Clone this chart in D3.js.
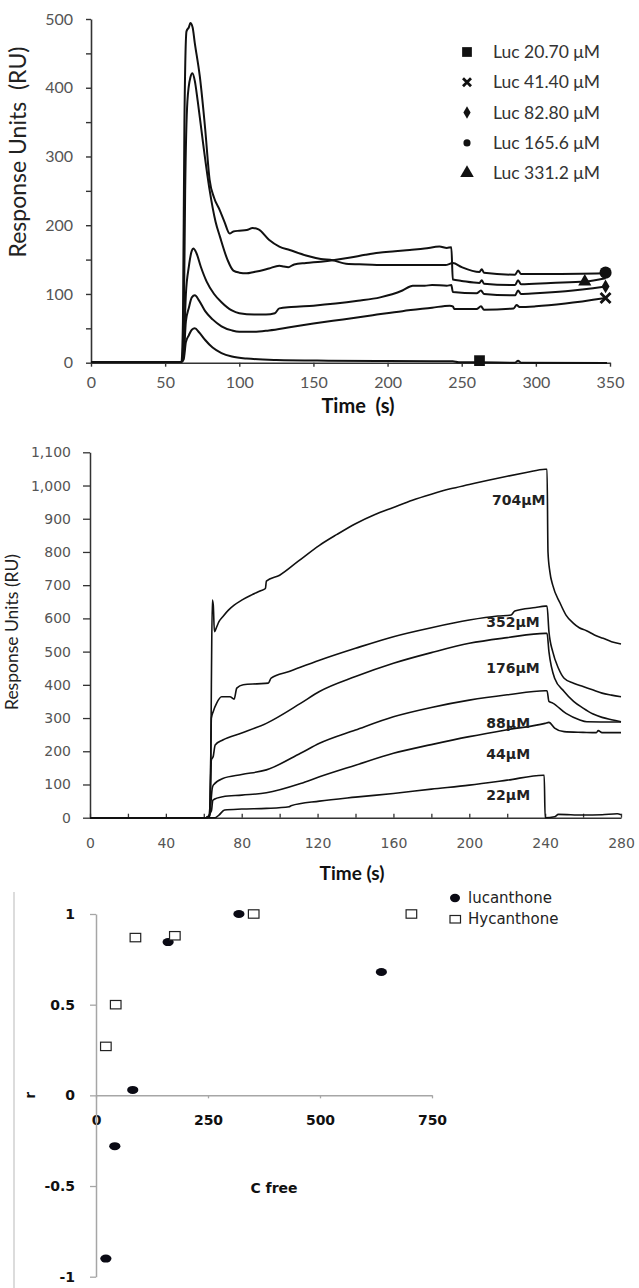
<!DOCTYPE html>
<html>
<head>
<meta charset="utf-8">
<script src="https://cdn.jsdelivr.net/npm/d3@7"></script>
<style>
  body { margin: 0; background: #fff; }
  svg { display: block; }
  .pre { white-space: pre; }
</style>
</head>
<body>
<svg id="chart" width="639" height="1288"></svg>
<script>
// ---------- Panel A: lucanthone sensorgrams (time s, response RU) ----------
const lucLabels = ["Luc 20.70 μM", "Luc 41.40 μM", "Luc 82.80 μM", "Luc 165.6 μM", "Luc 331.2 μM"];
const timeTicksA = [0, 50, 100, 150, 200, 250, 300, 350];
const ruTicksA = [0, 50, 100, 150, 200, 250, 300, 350, 400, 450, 500];

const luc20 = [[0,1],[61,1],[62.5,5],[64,30],[66,40],[68,48],[70,50],[73,44],[77,33],[82,22],[88,14],[95,9],[105,6],[125,4],[160,3],[200,2.5],[244,2],[248,0.5],[262,0.5],[286,0],[288,3],[290,0],[348,-0.5]];
const luc41 = [[0,1],[61,1],[62.5,10],[64,60],[66,80],[68,95],[70,98],[73,90],[77,75],[82,63],[88,53],[95,47],[100,45],[110,45],[120,47],[135,52],[150,57],[170,63],[190,69],[210,75],[230,80],[242,83],[244,82],[245,78],[260,78],[263,82],[265,77],[285,79],[287,84],[289,81],[300,82],[320,86],[347,94]];
const luc83 = [[0,1],[61,1],[62.5,20],[64,100],[66,140],[68,163],[69,166],[71,160],[74,140],[78,118],[83,100],[88,88],[95,76],[100,72],[110,70],[118,70],[124,72],[127,79],[135,81],[150,83],[165,86],[180,90],[195,95],[210,105],[217,112],[225,112],[230,113],[240,112],[243,113],[244,103],[260,101],[263,105],[265,100],[286,98],[288,105],[290,100],[300,101],[320,104],[347,111]];
const luc166 = [[0,1],[61,1],[62,60],[63,350],[64.4,482],[66,488],[67,494],[68.5,488],[70,465],[73.4,416],[77,340],[80,266],[83,240],[86.8,222],[90,205],[93.5,188],[96,191],[100,192],[105,193],[109,196],[113,194],[120,179],[127,169],[134,164],[145,156],[155,151],[163,149],[172,144],[185,143],[200,142],[220,142],[239,142],[244,145],[250,139],[262,132],[263.5,136],[265,131],[286,128],[288,134],[290,129],[310,129],[347,130]];
const luc331 = [[0,1],[61,1],[62.5,50],[63.5,250],[65,380],[67,415],[68.4,421],[70,410],[72,380],[75.6,319],[80,251],[84,205],[87,183],[92,150],[96,134],[100,131],[105,130],[110,132],[115,134],[120,137],[127,141],[130,140],[133,139],[137,143],[145,145],[155,147],[163,149],[175,153],[185,157],[194,160],[205,162],[215,164],[225,166],[235,169],[240,167],[243,168],[244,121],[250,119],[262,116],[263.5,120],[265,115],[286,113],[288,120],[290,114],[310,116],[333,118],[347,123]];
const lucSeries = [luc20, luc41, luc83, luc166, luc331];
// one marker drawn on each trace: [time, RU]
const lucMarkers = [[262, 3], [347, 94], [347, 111], [347, 131], [333, 118]];
const lucSymbols = ["square", "times", "diamond", "circle", "triangle"];

// ---------- Panel B: hycanthone sensorgrams ----------
const hycLabels = ["704μM", "352μM", "176μM", "88μM", "44μM", "22μM"];
const timeTicksB = [0, 20, 40, 60, 80, 100, 120, 140, 160, 180, 200, 220, 240, 260, 280];
const ruTicksB = [0, 100, 200, 300, 400, 500, 600, 700, 800, 900, 1000, 1100];

const hyc704 = [[0,0],[61,0],[62.5,3],[63.5,60],[64,400],[64.5,655],[65,640],[65.6,560],[66.5,570],[68,590],[70,605],[73,625],[76,640],[80,655],[85,670],[90,683],[92.5,690],[93,712],[100,730],[110,773],[121,820],[130,852],[140,885],[150,912],[160,934],[170,956],[180,974],[190,990],[200,1003],[210,1016],[220,1028],[230,1039],[240,1049],[241,1049],[241.5,800],[242.5,740],[244,700],[247.8,647],[251,610],[254.8,586],[258,572],[261.8,563],[266,550],[270.6,540],[275,530],[280,523]];
const hyc352 = [[0,0],[61,0],[63,5],[63.6,150],[64,300],[65,320],[66.8,345],[69.4,364],[73.8,364],[76,357],[77.4,390],[80.8,400],[88,403],[94,405],[95.5,420],[105,440],[121,474],[140,510],[160,545],[180,572],[200,595],[215,607],[222,610],[224,622],[235,633],[240,637],[241,637],[242,560],[244,500],[247,450],[250,420],[255,405],[260,395],[265,385],[270,375],[275,369],[280,364]];
const hyc176 = [[0,0],[61,0],[63,5],[64,174],[65,185],[66,219],[70,234],[80,255],[93,284],[111,344],[121,380],[140,425],[160,465],[180,497],[200,525],[220,542],[240,555],[241,555],[242,500],[245,420],[250,380],[255,350],[260,330],[265,313],[270,302],[275,295],[280,289]];
const hyc88 = [[0,0],[61,0],[63,5],[64.5,90],[65,98],[70,118],[80,130],[93,144],[111,194],[121,224],[140,264],[160,304],[180,332],[200,354],[220,370],[240,382],[241,382],[242,350],[244,345],[251,314],[258,295],[262,289],[280,288]];
const hyc44 = [[0,0],[61,0],[64,20],[64.8,53],[70,63],[80,68],[93,75],[111,103],[121,123],[140,158],[160,194],[180,220],[200,244],[220,265],[240,284],[242,287],[245,270],[250,259],[260,257],[267,256],[268,262],[270,256],[280,256]];
const hyc22 = [[0,0],[66,0],[68,8],[71,23],[80,26],[93,28],[105,33],[106,36],[121,50],[140,62],[160,73],[180,86],[200,98],[220,113],[239,128],[239.5,128],[240,0],[245,3],[247,10],[260,8],[270,9],[278,12],[280,9]];
const hycSeries = [hyc704, hyc352, hyc176, hyc88, hyc44, hyc22];
// label anchors (time, RU) for each concentration tag
const hycLabelAt = [[212, 942], [209, 574], [209, 436], [209, 270], [209, 177], [209, 54]];

// ---------- Panel C: r versus free concentration ----------
const cFreeLuc = [22, 42, 82, 161, 319, 637];
const rLuc = [-0.90, -0.28, 0.03, 0.845, 1.0, 0.68];
const cFreeHyc = [22, 44, 88, 176, 352, 704];
const rHyc = [0.27, 0.50, 0.87, 0.88, 1.0, 1.0];
const cTicks = [0, 250, 500, 750];
const rTicks = [-1, -0.5, 0, 0.5, 1];
const scatterNames = ["lucanthone", "Hycanthone"];

const svg = d3.select("#chart");

// =================== Panel A ===================
const xA = d3.scaleLinear().domain([0, 350]).range([91, 610]);
const yA = d3.scaleLinear().domain([0, 500]).range([362.7, 19]);
const gA = svg.append("g");

const axA_x = gA.append("g").attr("transform", `translate(0,${yA(0)})`)
  .call(d3.axisBottom(xA).tickValues(timeTicksA).tickSize(4).tickPadding(10).tickSizeOuter(0));
const axA_y = gA.append("g").attr("transform", `translate(${xA(0)},0)`)
  .call(d3.axisLeft(yA).tickValues(ruTicksA).tickSize(5).tickPadding(13).tickSizeOuter(0)
    .tickFormat(d => d % 100 === 0 ? d : ""));
[axA_x, axA_y].forEach(a => {
  a.select(".domain").attr("stroke", "#333").attr("stroke-width", 1.6);
  a.selectAll(".tick line").attr("stroke", "#333").attr("stroke-width", 1.4);
  a.selectAll(".tick text").attr("fill", "#555").style("font-family", "Lato").style("font-size", "16px");
});

const lineA = d3.line().x(d => xA(d[0])).y(d => yA(d[1])).curve(d3.curveMonotoneX);
gA.selectAll("path.trace").data(lucSeries).join("path")
  .attr("class", "trace").attr("d", lineA)
  .attr("fill", "none").attr("stroke", "#111").attr("stroke-width", 2)
  .attr("stroke-linejoin", "round");

function symbolPath(kind, size) {
  if (kind === "times") {
    const h = size / 2;
    return `M${-h},${-h}L${h},${h}M${-h},${h}L${h},${-h}`;
  }
  const map = { square: d3.symbolSquare, diamond: d3.symbolDiamond, circle: d3.symbolCircle, triangle: d3.symbolTriangle };
  return d3.symbol().type(map[kind]).size(size)();
}
const endSize = { square: 115, times: 10, diamond: 55, circle: 115, triangle: 75 };
const legSize = { square: 95, times: 8, diamond: 45, circle: 40, triangle: 80 };
function drawSymbol(g, kind, size, x, y) {
  const p = g.append("path").attr("d", symbolPath(kind, size))
    .attr("transform", `translate(${x},${y})`);
  if (kind === "times") p.attr("fill", "none").attr("stroke", "#111").attr("stroke-width", 2.8);
  else p.attr("fill", "#111");
}
lucMarkers.forEach((m, i) => drawSymbol(gA, lucSymbols[i], endSize[lucSymbols[i]], xA(m[0]), yA(m[1])));

// legend
const legA = gA.append("g");
lucLabels.forEach((lab, i) => {
  const cy = 52 + i * 30.3;
  drawSymbol(legA, lucSymbols[i], legSize[lucSymbols[i]], 467, cy);
  legA.append("text").attr("x", 493).attr("y", cy).attr("dy", "0.35em")
    .style("font-family", "Lato").style("font-size", "17.5px").attr("fill", "#333").text(lab);
});

gA.append("text").attr("class", "pre").attr("transform", "translate(26,152) rotate(-90)")
  .attr("text-anchor", "middle").style("font-family", "Lato").style("font-size", "23px")
  .attr("fill", "#222").text("Response Units  (RU)");
gA.append("text").attr("class", "pre").attr("x", 358).attr("y", 413).attr("text-anchor", "middle")
  .style("font-family", "Lato").style("font-size", "20px").style("font-weight", "bold")
  .attr("fill", "#111").text("Time  (s)");

// =================== Panel B ===================
const xB = d3.scaleLinear().domain([0, 280]).range([90, 621]);
const yB = d3.scaleLinear().domain([0, 1100]).range([817.7, 452.3]);
const gB = svg.append("g");

const axB_x = gB.append("g").attr("transform", `translate(0,${yB(0)})`)
  .call(d3.axisBottom(xB).tickValues(timeTicksB).tickSize(-4).tickPadding(20).tickSizeOuter(0)
    .tickFormat(d => d % 40 === 0 ? d : ""));
const axB_y = gB.append("g").attr("transform", `translate(${xB(0)},0)`)
  .call(d3.axisLeft(yB).tickValues(ruTicksB).tickSize(7).tickPadding(12).tickSizeOuter(0)
    .tickFormat(d3.format(",")));
[axB_x, axB_y].forEach(a => {
  a.select(".domain").attr("stroke", "#333").attr("stroke-width", 1.5);
  a.selectAll(".tick line").attr("stroke", "#333").attr("stroke-width", 1.3);
  a.selectAll(".tick text").attr("fill", "#555").style("font-family", "DejaVu Sans").style("font-size", "14px");
});

const lineB = d3.line().x(d => xB(d[0])).y(d => yB(d[1])).curve(d3.curveMonotoneX);
gB.selectAll("path.trace").data(hycSeries).join("path")
  .attr("class", "trace").attr("d", lineB)
  .attr("fill", "none").attr("stroke", "#111").attr("stroke-width", 1.6)
  .attr("stroke-linejoin", "round");

gB.selectAll("text.conc").data(hycLabels).join("text")
  .attr("class", "conc")
  .attr("x", (d, i) => xB(hycLabelAt[i][0]))
  .attr("y", (d, i) => yB(hycLabelAt[i][1]))
  .style("font-family", "DejaVu Sans").style("font-size", "14px").style("font-weight", "bold")
  .attr("fill", "#222").text(d => d);

gB.append("text").attr("transform", "translate(18,632) rotate(-90)")
  .attr("text-anchor", "middle").style("font-family", "Lato").style("font-size", "17.5px")
  .attr("fill", "#222").text("Response Units (RU)");
gB.append("text").attr("x", 352).attr("y", 880).attr("text-anchor", "middle")
  .style("font-family", "Lato").style("font-size", "19px").style("font-weight", "bold")
  .attr("fill", "#111").text("Time (s)");

// =================== Panel C ===================
const xC = d3.scaleLinear().domain([0, 750]).range([96, 432]);
const yC = d3.scaleLinear().domain([-1, 1]).range([1276.7, 914]);
const gC = svg.append("g");

gC.append("line").attr("x1", 14).attr("x2", 14).attr("y1", 892).attr("y2", 1288)
  .attr("stroke", "#d0d0d0").attr("stroke-width", 1.5);

const axC_x = gC.append("g").attr("transform", `translate(0,${yC(0)})`)
  .call(d3.axisBottom(xC).tickValues(cTicks).tickSize(3).tickPadding(17).tickSizeOuter(0));
const axC_y = gC.append("g").attr("transform", `translate(${xC(0)},0)`)
  .call(d3.axisLeft(yC).tickValues(rTicks).tickSize(6).tickPadding(15).tickSizeOuter(0)
    .tickFormat(d => String(d)));
[axC_x, axC_y].forEach(a => {
  a.select(".domain").attr("stroke", "#a6a6a6").attr("stroke-width", 1.5);
  a.selectAll(".tick line").attr("stroke", "#a6a6a6").attr("stroke-width", 1.3);
  a.selectAll(".tick text").attr("fill", "#111").style("font-family", "DejaVu Sans")
    .style("font-size", "14px").style("font-weight", "bold");
});

gC.selectAll("ellipse.luc").data(cFreeLuc).join("ellipse")
  .attr("class", "luc")
  .attr("cx", d => xC(d)).attr("cy", (d, i) => yC(rLuc[i]))
  .attr("rx", 5.6).attr("ry", 4).attr("fill", "#0a0a14");
gC.selectAll("rect.hyc").data(cFreeHyc).join("rect")
  .attr("class", "hyc")
  .attr("x", d => xC(d) - 5.3).attr("y", (d, i) => yC(rHyc[i]) - 4.2)
  .attr("width", 10.6).attr("height", 8.4)
  .attr("fill", "#fff").attr("stroke", "#222").attr("stroke-width", 1.2);

gC.append("text").attr("transform", `translate(35,${yC(0)}) rotate(-90)`)
  .attr("text-anchor", "middle").style("font-family", "DejaVu Sans").style("font-size", "14px")
  .style("font-weight", "bold").attr("fill", "#111").text("r");
gC.append("text").attr("x", 274).attr("y", 1193).attr("text-anchor", "middle")
  .style("font-family", "DejaVu Sans").style("font-size", "14px").style("font-weight", "bold")
  .attr("fill", "#111").text("C free");

// legend
const legC = gC.append("g");
legC.append("ellipse").attr("cx", 455).attr("cy", 898).attr("rx", 5).attr("ry", 4.2).attr("fill", "#0a0a14");
legC.append("rect").attr("x", 450).attr("y", 915.5).attr("width", 10.5).attr("height", 7.5)
  .attr("fill", "#fff").attr("stroke", "#222").attr("stroke-width", 1.2);
scatterNames.forEach((n, i) => {
  legC.append("text").attr("x", 468).attr("y", 898 + i * 21).attr("dy", "0.35em")
    .style("font-family", "DejaVu Sans").style("font-size", "15px").style("font-weight", "500")
    .attr("fill", "#222").text(n);
});
</script>
</body>
</html>
